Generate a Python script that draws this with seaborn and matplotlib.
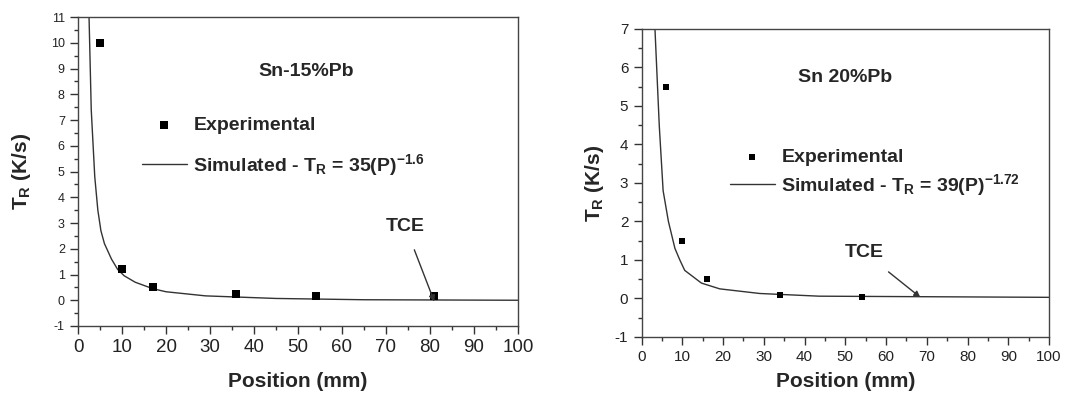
import matplotlib
matplotlib.use("Agg")
import matplotlib.pyplot as plt
import seaborn as sns
import pandas as pd

# experimental points
pos_15 = [5, 10, 17, 36, 54, 81]
tr_15 = [10.0, 1.2, 0.5, 0.25, 0.15, 0.15]
pos_20 = [6, 10, 16, 34, 54]
tr_20 = [5.5, 1.5, 0.5, 0.1, 0.05]

# simulated curves
sim_x_15 = [2.5, 3.0, 3.8, 4.5, 5.2, 6.0, 7.6, 9.0, 10.5, 13, 17, 20, 29, 45, 65, 100]
sim_y_15 = [11.0, 7.4, 4.8, 3.5, 2.7, 2.2, 1.6, 1.2, 0.95, 0.7, 0.45, 0.33, 0.17, 0.07, 0.02, 0.0]
sim_x_20 = [3.3, 4.35, 5.3, 6.6, 8.2, 9.4, 10.6, 14.7, 19.2, 29, 43.6, 100]
sim_y_20 = [7.0, 4.5, 2.8, 2.0, 1.3, 1.0, 0.73, 0.4, 0.25, 0.13, 0.06, 0.03]

sns.set_style("ticks")
plt.rcParams['font.family'] = ['Liberation Sans', 'DejaVu Sans']
plt.rcParams['mathtext.fontset'] = 'custom'
plt.rcParams['mathtext.rm'] = 'Liberation Sans'
plt.rcParams['mathtext.bf'] = 'Liberation Sans:bold'
plt.rcParams['mathtext.it'] = 'Liberation Sans:italic'
plt.rcParams['axes.unicode_minus'] = False

fig = plt.figure(figsize=(10.78, 3.94), dpi=100)
ax1 = fig.add_axes([0.0724, 0.1726, 0.408, 0.784])
ax2 = fig.add_axes([0.5951, 0.1447, 0.3781, 0.7817])


def draw_panel(ax, px, py, sx, sy, ymax, title, tpos, sim_label, leg_anchor, spacing, msize,
               tce_txt, tce_tip, xtick_size, ytick_size):
    sim = pd.DataFrame({'x': sx, 'y': sy})
    exp = pd.DataFrame({'x': px, 'y': py})
    sns.lineplot(data=sim, x='x', y='y', ax=ax, color='#333333', linewidth=1.0,
                 sort=False, label=sim_label)
    sns.scatterplot(data=exp, x='x', y='y', ax=ax, marker='s', color='black',
                    s=msize, edgecolor='black', linewidth=0, label='Experimental', zorder=3)
    ax.set_xlim(0, 100)
    ax.set_ylim(-1, ymax)
    ax.set_xticks(range(0, 101, 10))
    ax.set_yticks(range(-1, ymax + 1))
    ax.set_xticks(range(5, 100, 10), minor=True)
    ax.set_yticks([v + 0.5 for v in range(-1, ymax)], minor=True)
    ax.tick_params(axis='both', which='major', length=6, width=1,
                   color='#333333', labelcolor='#222222', direction='out')
    ax.tick_params(axis='x', which='major', labelsize=xtick_size)
    ax.tick_params(axis='y', which='major', labelsize=ytick_size)
    ax.tick_params(axis='both', which='minor', length=3, width=1, color='#333333')
    for sp in ax.spines.values():
        sp.set_color('#444444')
        sp.set_linewidth(1.0)
    ax.set_xlabel('Position (mm)', fontsize=15, fontweight='bold')
    ax.set_ylabel(r'$\mathbf{T_R}$ (K/s)', fontsize=15, fontweight='bold')
    ax.text(tpos[0], tpos[1], title, fontsize=14, fontweight='bold', ha='center', va='center')

    h, l = ax.get_legend_handles_labels()
    ax.legend(h[::-1], l[::-1], loc='center left', bbox_to_anchor=leg_anchor,
              bbox_transform=ax.transData, frameon=False, borderpad=0, borderaxespad=0,
              handlelength=2.3, handletextpad=0.35, labelspacing=spacing,
              prop={'size': 14, 'weight': 'bold'})

    ax.annotate('TCE', xy=tce_tip, xytext=tce_txt, textcoords='data', fontsize=14,
                fontweight='bold', ha='center', va='center',
                arrowprops=dict(arrowstyle='-|>', color='#333333', lw=1.0,
                                mutation_scale=9, shrinkA=9, shrinkB=0))


draw_panel(ax1, pos_15, tr_15, sim_x_15, sim_y_15, 11, 'Sn-15%Pb', (51.8, 8.9),
           r'Simulated - $\mathbf{T_R}$ = 35(P)$^{\mathbf{-1.6}}$', (14.5, 5.95), 0.95, 30,
           (74.4, 2.87), (81, -0.05), 13.5, 9)
draw_panel(ax2, pos_20, tr_20, sim_x_20, sim_y_20, 7, 'Sn 20%Pb', (50, 5.75),
           r'Simulated - $\mathbf{T_R}$ = 39(P)$^{\mathbf{-1.72}}$', (21.7, 3.25), 0.3, 24,
           (54.6, 1.2), (68.4, 0.03), 11, 11)

ax1.xaxis.set_label_coords(0.5, -0.15)
ax1.yaxis.set_label_coords(-0.102, 0.5)
ax2.xaxis.set_label_coords(0.5, -0.114)
ax2.yaxis.set_label_coords(-0.086, 0.5)

fig.savefig('out.png', dpi=100)
